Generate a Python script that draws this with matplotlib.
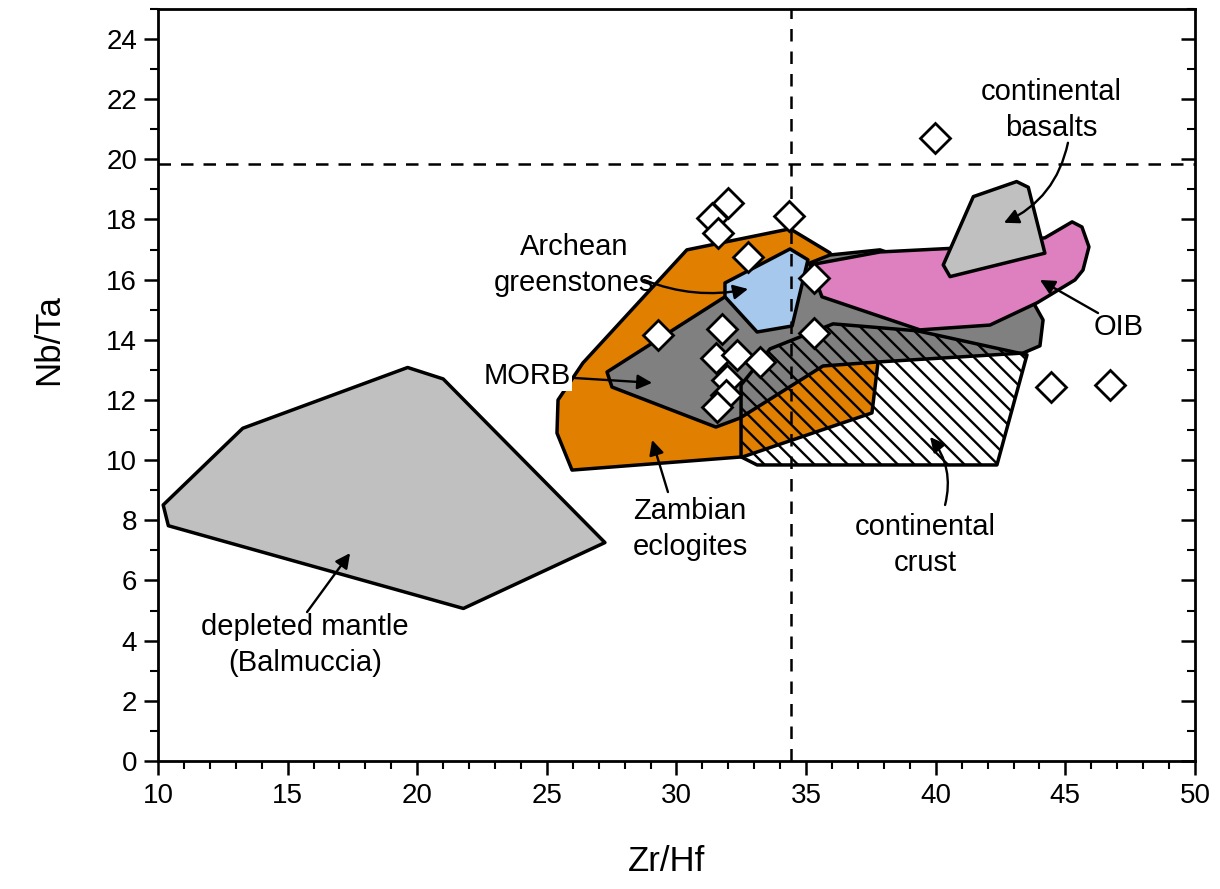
import matplotlib
matplotlib.use("Agg")
import matplotlib.pyplot as plt
from matplotlib.patches import Polygon
from matplotlib.ticker import MultipleLocator

plt.rcParams["font.family"] = ["Liberation Sans", "DejaVu Sans"]
plt.rcParams["hatch.linewidth"] = 1.7

# field outlines, Zr/Hf vs Nb/Ta
mantle_zrhf = [10.2, 10.4, 21.78, 27.24, 21.0, 19.63, 13.27]
mantle_nbta = [8.51, 7.82, 5.07, 7.26, 12.70, 13.08, 11.06]

zambia_zrhf = [25.97, 25.39, 25.43, 26.39, 30.40, 34.38, 35.92, 37.77, 37.54, 32.56]
zambia_nbta = [9.67, 10.90, 12.00, 13.23, 16.99, 17.69, 16.89, 13.23, 11.57, 10.11]

morb_zrhf = [27.32, 27.51, 31.52, 32.45, 35.65, 37.70, 43.37, 44.02, 44.14, 43.75,
             37.85, 35.92, 31.87]
morb_nbta = [12.93, 12.43, 11.10, 11.40, 13.13, 13.26, 13.56, 13.80, 14.66, 15.26,
             16.99, 16.82, 15.43]

archean_zrhf = [31.87, 34.38, 35.07, 34.46, 33.11, 31.87]
archean_nbta = [15.89, 17.02, 16.66, 14.46, 14.26, 15.43]

oib_zrhf = [35.15, 37.85, 40.82, 44.21, 45.26, 45.64, 45.91, 45.68, 45.37, 43.91,
            42.09, 39.39, 35.61]
oib_nbta = [16.49, 16.92, 17.05, 17.39, 17.92, 17.75, 17.09, 16.32, 15.99, 15.23,
            14.49, 14.33, 15.43]

basalt_zrhf = [41.45, 43.12, 43.57, 44.21, 40.55, 40.29]
basalt_nbta = [18.76, 19.26, 19.07, 16.88, 16.10, 16.49]

crust_zrhf = [32.49, 33.61, 36.04, 39.28, 43.52, 42.36, 33.11, 32.49]
crust_nbta = [12.50, 13.70, 14.53, 14.30, 13.50, 9.84, 9.84, 10.11]

# samples
sample_zrhf = [46.72, 44.45, 39.97, 34.34, 31.99, 31.37, 31.60, 32.76, 35.30,
               35.30, 29.29, 31.76, 31.52, 32.33, 33.22, 31.95, 31.90, 31.56]
sample_nbta = [12.50, 12.43, 20.71, 18.12, 18.55, 18.05, 17.55, 16.76, 16.06,
               14.23, 14.16, 14.36, 13.40, 13.50, 13.26, 12.67, 12.15, 11.77]

ref_zrhf = 34.4
ref_nbta = 19.85

# label text, label position, arrow tail, arrow head, curvature
labels = [
    ("continental\nbasalts", (44.45, 21.65), (45.10, 20.55), (42.63, 17.89), -0.25),
    ("OIB", (47.05, 14.43), (46.26, 14.89), (44.02, 15.99), 0.0),
    ("Archean\ngreenstones", (26.05, 16.49), (28.75, 15.99), (32.76, 15.69), 0.15),
    ("MORB", (24.23, 12.80), (26.08, 12.73), (29.06, 12.57), 0.0),
    ("Zambian\neclogites", (30.52, 7.70), (29.67, 8.94), (29.06, 10.67), 0.0),
    ("continental\ncrust", (39.59, 7.18), (40.36, 8.51), (39.78, 10.77), 0.25),
    ("depleted mantle\n(Balmuccia)", (15.67, 3.86), (15.75, 4.95), (17.41, 6.91), 0.0),
]

fig = plt.figure(figsize=(12.2, 8.89), dpi=100)
ax = fig.add_axes([0.1295, 0.144, 0.85, 0.846])

fields = [
    (mantle_zrhf, mantle_nbta, "#c0c0c0", None),
    (zambia_zrhf, zambia_nbta, "#e07f00", None),
    (morb_zrhf, morb_nbta, "#808080", None),
    (archean_zrhf, archean_nbta, "#a6c8ec", None),
    (oib_zrhf, oib_nbta, "#de7fbf", None),
    (basalt_zrhf, basalt_nbta, "#c0c0c0", None),
    (crust_zrhf, crust_nbta, "none", "\\\\"),
]
for i, (xs, ys, color, hatch) in enumerate(fields):
    poly = Polygon(list(zip(xs, ys)), closed=True, facecolor=color,
                   edgecolor="black", linewidth=2.5, hatch=hatch,
                   joinstyle="round", zorder=2 + i * 0.1)
    ax.add_patch(poly)

ax.axvline(ref_zrhf, color="black", lw=1.8, ls=(0, (5, 4)), zorder=3)
ax.axhline(ref_nbta, color="black", lw=1.8, ls=(0, (5, 4)), zorder=3)

ax.plot(sample_zrhf, sample_nbta, ls="none", marker="D", ms=15.5,
        mfc="white", mec="black", mew=2, zorder=4)

for text, xy_text, tail, head, rad in labels:
    bbox = None
    if text == "MORB":
        bbox = dict(facecolor="white", edgecolor="none", pad=1)
    ax.text(xy_text[0], xy_text[1], text, fontsize=21, ha="center",
            va="center", linespacing=1.35, bbox=bbox, zorder=5)
    ax.annotate("", xy=head, xytext=tail,
                arrowprops=dict(arrowstyle="-|>", color="black", lw=1.7,
                                mutation_scale=22, shrinkA=0, shrinkB=0,
                                connectionstyle=f"arc3,rad={rad}"),
                zorder=5)

ax.set_xlim(10, 50)
ax.set_ylim(0, 25)
ax.xaxis.set_major_locator(MultipleLocator(5))
ax.xaxis.set_minor_locator(MultipleLocator(1))
ax.set_yticks(range(0, 25, 2))
ax.yaxis.set_minor_locator(MultipleLocator(1))

for side in ["left", "right", "top", "bottom"]:
    ax.spines[side].set_linewidth(2)

ax.tick_params(axis="x", which="major", direction="out", length=10, width=1.8,
               labelsize=20, pad=6)
ax.tick_params(axis="x", which="minor", direction="out", length=6, width=1.5)
ax.tick_params(axis="y", which="major", direction="out", length=10, width=1.8,
               labelsize=20, pad=5)
ax.tick_params(axis="y", which="minor", direction="out", length=6, width=1.5)

# inward ticks on the right-hand spine
ax_r = ax.twinx()
ax_r.set_ylim(ax.get_ylim())
ax_r.set_yticks(range(0, 25, 2))
ax_r.yaxis.set_minor_locator(MultipleLocator(1))
ax_r.tick_params(axis="y", which="major", direction="in", length=10, width=1.8,
                 labelright=False)
ax_r.tick_params(axis="y", which="minor", direction="in", length=6, width=1.5)
for spine in ax_r.spines.values():
    spine.set_visible(False)

ax.set_xlabel("Zr/Hf", fontsize=25)
ax.set_ylabel("Nb/Ta", fontsize=25)
ax.xaxis.set_label_coords(0.49, -0.112)
ax.yaxis.set_label_coords(-0.09, 0.56)

fig.savefig("out.png", dpi=100)
